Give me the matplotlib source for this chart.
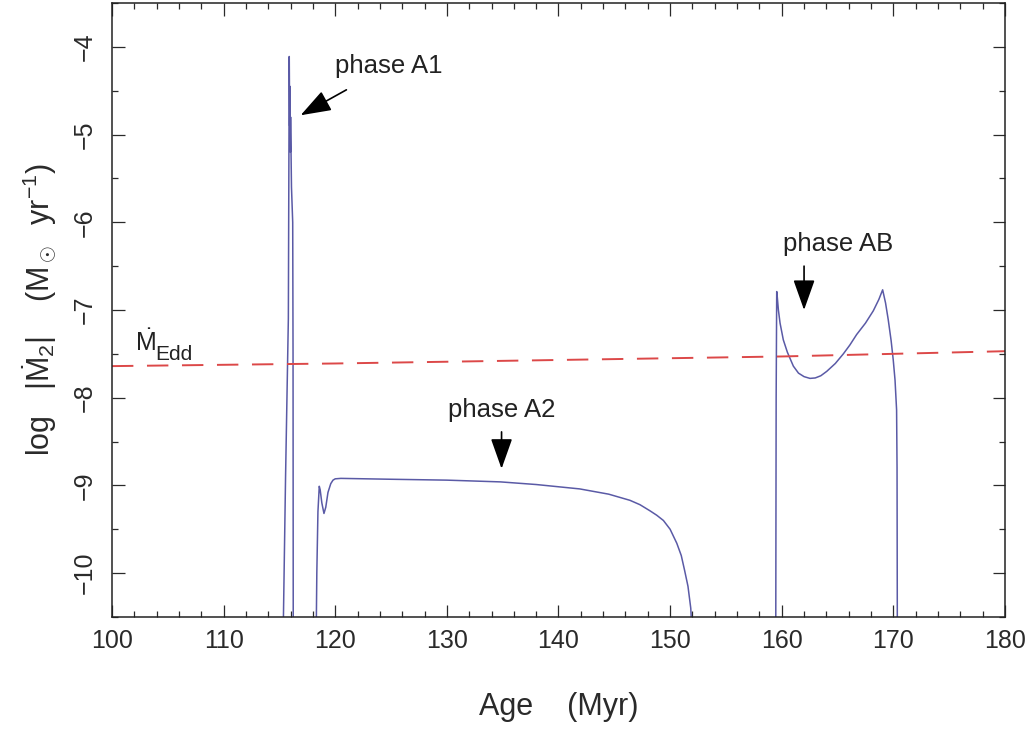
import numpy as np
import matplotlib
matplotlib.use('Agg')
import matplotlib.pyplot as plt
from matplotlib.ticker import MultipleLocator

plt.rcParams['font.family'] = ['Liberation Sans', 'DejaVu Sans']
plt.rcParams['mathtext.fontset'] = 'custom'
plt.rcParams['mathtext.rm'] = 'Liberation Sans'
plt.rcParams['mathtext.it'] = 'Liberation Sans:italic'
plt.rcParams['mathtext.bf'] = 'Liberation Sans:bold'

# phase A1 spike (Age in Myr, log |Mdot2|)
a1_age = [115.30, 115.55, 115.80, 115.88, 115.92, 115.94, 115.98, 116.00,
          116.08, 116.19, 116.22, 116.24]
a1_mdot = [-11.0, -8.9, -7.1, -4.11, -4.9, -4.45, -5.2, -4.80,
           -5.6, -6.0, -7.5, -11.0]

# phase A2
a2_age = [118.27, 118.35, 118.45, 118.57, 118.65, 118.80, 118.99, 119.15,
          119.35, 119.60, 119.80, 120.0, 120.5, 125.0, 130.0, 134.8, 138.0,
          141.9, 144.5, 146.4, 147.3, 148.2, 148.8, 149.4, 150.0, 150.6,
          151.0, 151.3, 151.6, 151.85, 152.1]
a2_mdot = [-11.0, -10.0, -9.3, -9.01, -9.05, -9.20, -9.32, -9.25,
           -9.08, -8.98, -8.94, -8.925, -8.92, -8.93, -8.94, -8.96, -8.99,
           -9.04, -9.10, -9.17, -9.22, -9.29, -9.34, -9.40, -9.50, -9.66,
           -9.80, -9.97, -10.15, -10.4, -11.0]

# phase AB
ab_age = [159.46, 159.50, 159.55, 159.60, 159.70, 159.85, 160.14, 160.50,
          161.04, 161.50, 162.00, 162.53, 163.00, 163.50, 164.03, 164.80,
          165.52, 166.10, 166.71, 167.50, 168.20, 168.70, 169.04, 169.30,
          169.54, 169.80, 169.99, 170.15, 170.29, 170.33, 170.36]
ab_mdot = [-11.0, -8.0, -6.79, -6.85, -7.00, -7.15, -7.34, -7.48,
           -7.64, -7.72, -7.76, -7.78, -7.775, -7.75, -7.70, -7.61,
           -7.50, -7.40, -7.28, -7.15, -7.01, -6.88, -6.77, -6.92,
           -7.11, -7.35, -7.57, -7.80, -8.14, -8.8, -11.0]

# Eddington limit
edd_age = [100, 120, 140, 160, 170, 180]
edd_mdot = [-7.64, -7.61, -7.57, -7.53, -7.50, -7.47]

fig = plt.figure(figsize=(10.35, 7.31), dpi=100)
ax = fig.add_axes([0.1082, 0.156, 0.8628, 0.8399])

blue = '#5a5aa6'
ax.plot(a1_age, a1_mdot, color=blue, lw=1.1)
ax.plot(a2_age, a2_mdot, color=blue, lw=1.1)
ax.plot(ab_age, ab_mdot, color=blue, lw=1.1)
ax.plot(edd_age, edd_mdot, color='#dc4848', lw=1.4, dashes=(11, 7))

ax.set_xlim(100, 180)
ax.set_ylim(-10.5, -3.5)

ax.xaxis.set_major_locator(MultipleLocator(10))
ax.xaxis.set_minor_locator(MultipleLocator(2))
ax.yaxis.set_major_locator(MultipleLocator(1))
ax.yaxis.set_minor_locator(MultipleLocator(0.5))
ax.tick_params(which='both', direction='in', top=True, right=True,
               width=0.9, labelsize=18, colors='#2a2a2a')
ax.tick_params(which='major', length=9)
ax.tick_params(which='minor', length=4.5)
ax.tick_params(axis='x', pad=9)
ax.tick_params(axis='y', pad=11)
for lab in ax.get_yticklabels():
    lab.set_rotation(90)
    lab.set_va('center')
for s in ax.spines.values():
    s.set_linewidth(1.1)
    s.set_color('#222222')

ax.set_xlabel('Age    (Myr)', fontsize=22, labelpad=28, color='#2a2a2a')
ax.set_ylabel(r'log   $|\dot{\rm M}_2|$    (M$_\odot$  yr$^{-1}$)',
              fontsize=22, labelpad=10, color='#2a2a2a')

# annotations
arrow = dict(arrowstyle='-|>,head_length=0.9,head_width=0.32',
             color='black', lw=1.2, mutation_scale=21, shrinkA=0, shrinkB=0)
ax.annotate('', xy=(116.9, -4.78), xytext=(121.0, -4.49), arrowprops=arrow)
ax.text(120.0, -4.22, 'phase A1', fontsize=18.5, va='center', ha='left',
        color='#222222')
ax.annotate('', xy=(134.9, -8.81), xytext=(134.9, -8.39), arrowprops=arrow)
ax.text(130.1, -8.14, 'phase A2', fontsize=18.5, va='center', ha='left',
        color='#222222')
ax.annotate('', xy=(162.0, -7.0), xytext=(162.0, -6.50), arrowprops=arrow)
ax.text(160.1, -6.25, 'phase AB', fontsize=18.5, va='center', ha='left',
        color='#222222')

ax.text(102.1, -7.47, r'$\dot{\rm M}$', fontsize=18, va='baseline',
        ha='left', color='#222222')
ax.text(103.85, -7.57, 'Edd', fontsize=15, va='baseline', ha='left',
        color='#222222')

fig.savefig('out.png', dpi=100)
